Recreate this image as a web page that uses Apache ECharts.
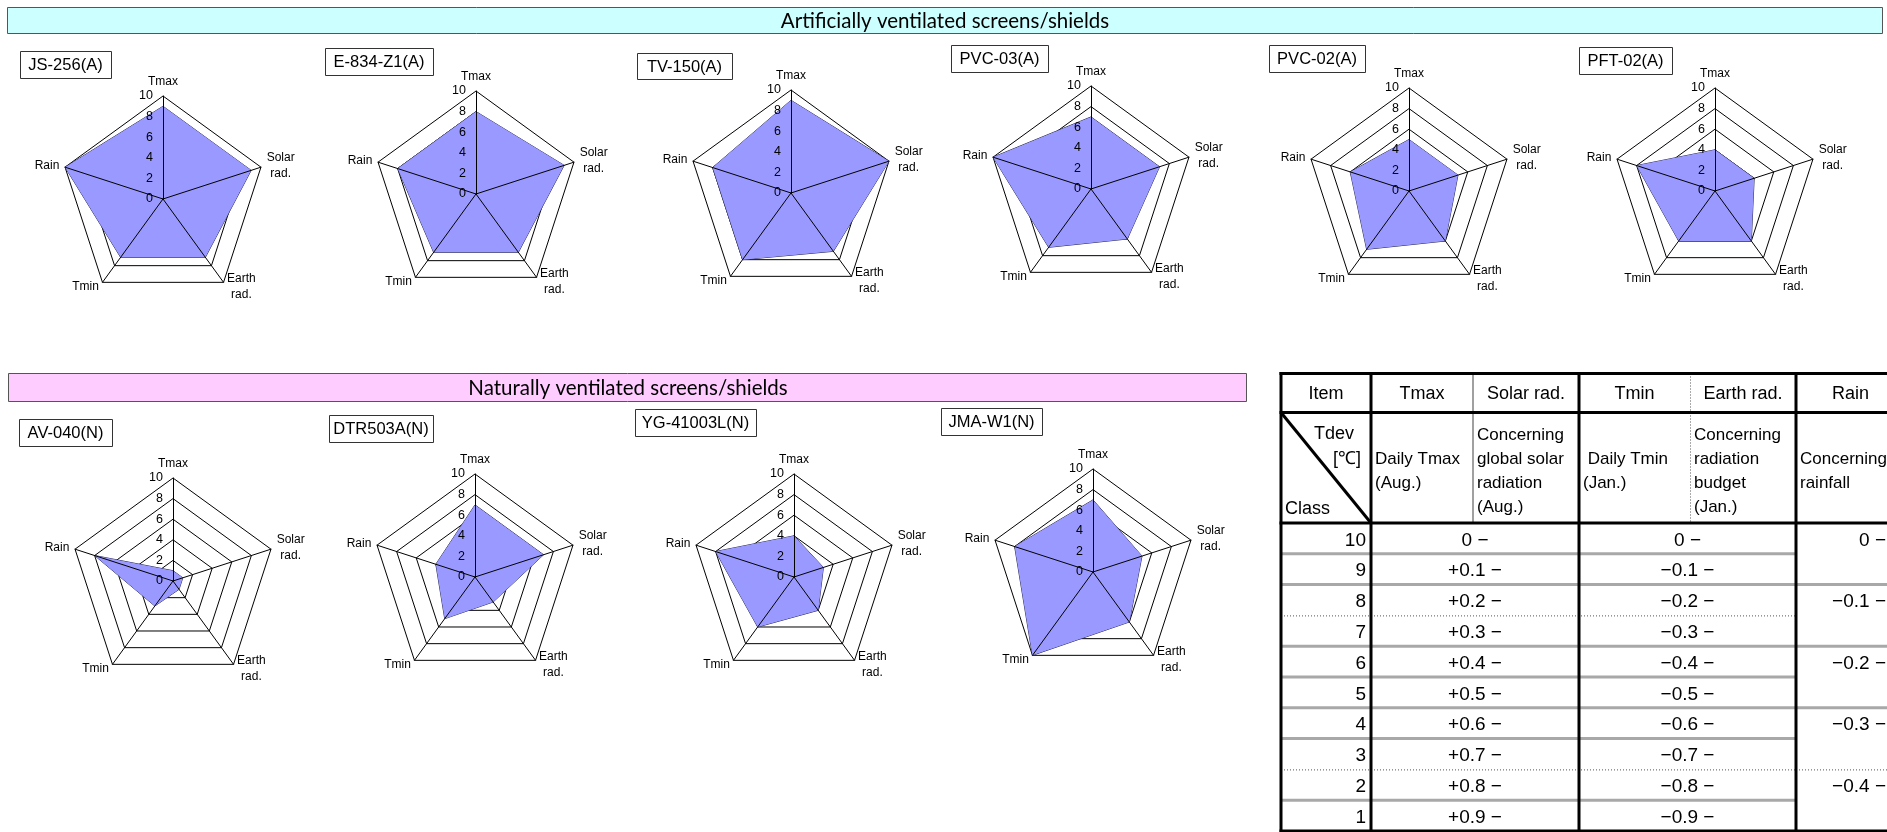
<!DOCTYPE html>
<html><head><meta charset="utf-8">
<script src="https://cdn.jsdelivr.net/npm/echarts@6/dist/echarts.min.js"></script>
<style>html,body{margin:0;padding:0;background:#fff;overflow:hidden}#c{width:1887px;height:832px}</style>
</head><body><div id="c"></div>
<script>
// ---------------- data ----------------
const groupTitles = ['Artificially ventilated screens/shields', 'Naturally ventilated screens/shields'];
const screens = ['JS-256(A)', 'E-834-Z1(A)', 'TV-150(A)', 'PVC-03(A)', 'PVC-02(A)', 'PFT-02(A)',
                 'AV-040(N)', 'DTR503A(N)', 'YG-41003L(N)', 'JMA-W1(N)'];
const axisNames = ['Tmax', 'Solar rad.', 'Earth rad.', 'Tmin', 'Rain'];
const tmax  = [9, 8, 9, 7, 5, 4, 1, 7, 4, 7];
const solar = [9, 9, 10, 7, 5, 4, 1, 7, 3, 5];
const earth = [7, 7, 7, 6, 6, 6, 1, 3, 4, 6];
const tmin  = [7, 7, 8, 7, 7, 6, 3, 5, 6, 10];
const rain  = [10, 8, 8, 10, 6, 8, 8, 4, 8, 8];
const classMin = 0, classMax = 10, classSplits = 5;

const tableItems = ['Item', 'Tmax', 'Solar rad.', 'Tmin', 'Earth rad.', 'Rain'];
const tableDesc = [[], ['Daily Tmax', '(Aug.)'], ['Concerning', 'global solar', 'radiation', '(Aug.)'],
                   [' Daily Tmin', '(Jan.)'], ['Concerning', 'radiation', 'budget', '(Jan.)'], ['Concerning', 'rainfall']];
const cornerTop = ['Tdev', '[\u2103]'];
const cornerBottom = 'Class';
const classes = [10, 9, 8, 7, 6, 5, 4, 3, 2, 1];
const tmaxSolarDev = ['0 \u2212', '+0.1 \u2212', '+0.2 \u2212', '+0.3 \u2212', '+0.4 \u2212', '+0.5 \u2212', '+0.6 \u2212', '+0.7 \u2212', '+0.8 \u2212', '+0.9 \u2212'];
const tminEarthDev = ['0 \u2212', '\u22120.1 \u2212', '\u22120.2 \u2212', '\u22120.3 \u2212', '\u22120.4 \u2212', '\u22120.5 \u2212', '\u22120.6 \u2212', '\u22120.7 \u2212', '\u22120.8 \u2212', '\u22120.9 \u2212'];
const rainDev = ['0 \u2212', '\u22120.1 \u2212', '\u22120.2 \u2212', '\u22120.3 \u2212', '\u22120.4 \u2212'];

// ---------------- layout (positions / styles) ----------------
const centers = [[163,199],[476,194],[791,193],[1091,189],[1409,191],[1715,191],
                 [173,581],[475,577],[794,577],[1093,572]];
const boxes = [[20,51,91,27],[325,48,108,27],[637,53,95,26],[951,45,97,27],[1269,45,96,27],[1579,47,93,27],
               [19,419,93,27],[329,415,104,27],[635,409,121,27],[941,408,101,27]];
const R = 103;
const FONT = '"Liberation Sans", Arial, sans-serif';
const BANNER_FONT = 'Lato, "Open Sans", sans-serif';
const vals = [tmax, solar, earth, tmin, rain];
const order = [0, 4, 3, 2, 1]; // counter-clockwise from top: Tmax, Rain, Tmin, Earth rad., Solar rad.

const radars = [], series = [];
screens.forEach((s, i) => {
  radars.push({
    center: centers[i], radius: R, startAngle: 90, splitNumber: classSplits, shape: 'polygon', z: 1,
    indicator: order.map(k => ({ name: axisNames[k], min: classMin, max: classMax })),
    axisNameGap: 6,
    axisName: {
      show: true, color: '#000', fontSize: 12, fontFamily: FONT,
      formatter: v => v.split(' ').map(w => '{n|' + w + '}').join('\n'),
      rich: { n: { align: 'center', fontSize: 12, fontFamily: FONT, color: '#000', lineHeight: 16 } }
    },
    splitLine: { show: true, lineStyle: { color: '#000', width: 1 } },
    splitArea: { show: false },
    axisLine: { show: false }, axisTick: { show: false }, axisLabel: { show: false }
  });
  radars.push({
    center: centers[i], radius: R, startAngle: 90, splitNumber: classSplits, shape: 'polygon', z: 3,
    indicator: order.map((k, j) => j === 0
      ? { name: '', min: classMin, max: classMax,
          axisLabel: { show: true, color: '#000', fontSize: 12.5, fontFamily: FONT, margin: 10 } }
      : { name: '', min: classMin, max: classMax }),
    axisName: { show: false },
    splitLine: { show: false }, splitArea: { show: false },
    axisLine: { show: true, lineStyle: { color: '#000', width: 1 } },
    axisTick: { show: false }, axisLabel: { show: false }
  });
  series.push({
    type: 'radar', radarIndex: 2 * i, z: 2, silent: true, symbol: 'none',
    lineStyle: { color: '#2a2a55', width: 1 },
    areaStyle: { color: '#9999FF', opacity: 1 },
    data: [{ name: s, value: order.map(k => vals[k][i]) }]
  });
});

// ---------------- graphic: banners, name boxes, table ----------------
const els = [];
function txt(x, y, text, font, align, valign, extra) {
  els.push(Object.assign({ type: 'text', x: x, y: y, silent: true, z: 10,
    style: { text: text, font: font, fill: '#000', align: align, verticalAlign: valign,
             textAlign: align, textVerticalAlign: valign } }, extra || {}));
}
function line(x1, y1, x2, y2, stroke, w, dash) {
  els.push({ type: 'line', silent: true, z: 9, shape: { x1, y1, x2, y2 },
    style: { stroke: stroke, lineWidth: w, lineDash: dash || null } });
}
// banners
els.push({ type: 'rect', silent: true, z: 5, shape: { x: 7.5, y: 7.5, width: 1875, height: 26 },
  style: { fill: '#CCFFFF', stroke: '#555', lineWidth: 1 } });
txt(945, 21, groupTitles[0], '20.5px ' + BANNER_FONT, 'center', 'middle');
els.push({ type: 'rect', silent: true, z: 5, shape: { x: 8.5, y: 373.5, width: 1238, height: 28 },
  style: { fill: '#FFCCFF', stroke: '#555', lineWidth: 1 } });
txt(628, 388, groupTitles[1], '20.5px ' + BANNER_FONT, 'center', 'middle');
// name boxes
screens.forEach((s, i) => {
  const b = boxes[i];
  els.push({ type: 'rect', silent: true, z: 5, shape: { x: b[0] + 0.5, y: b[1] + 0.5, width: b[2], height: b[3] },
    style: { fill: '#fff', stroke: '#333', lineWidth: 1 } });
  txt(b[0] + b[2] / 2, b[1] + b[3] / 2 + 1, s, '16.5px ' + FONT, 'center', 'middle');
});
// table
const cx = [1281, 1371, 1473, 1579, 1690, 1796, 1905];
const T0 = 373.5, T1 = 412.5, T2 = 523, RH = 30.8;
const rowY = i => T2 + i * RH;
const sepStyle = ['g', 'g', 'd', 'g', 'g', 'g', 'g', 'd', 'g'];
// row separators
sepStyle.forEach((st, i) => {
  const y = rowY(i + 1);
  const draw = (xa, xb) => st === 'g' ? line(xa, y, xb, y, '#a8a8a8', 3) : line(xa, y + 0.5, xb, y + 0.5, '#555', 1, [1, 2]);
  draw(cx[0], cx[5]);
  if (i % 2 === 1) draw(cx[5], cx[6]);
});
// header inner verticals
line(cx[2], T0, cx[2], T2, '#a0a0a0', 2);
line(cx[4] + 0.5, T0, cx[4] + 0.5, T2, '#555', 1, [1, 2]);
// thick borders
const bottom = rowY(10);
[T0, T1, T2].forEach(y => line(cx[0] - 1.5, y, cx[6], y, '#000', 3));
line(cx[0] - 1.5, bottom, cx[6], bottom, '#000', 3);
[0, 1, 3, 5].forEach(k => line(cx[k], T0 - 1.5, cx[k], bottom + 1.5, '#000', 3));
line(cx[0], T1, cx[1], T2, '#000', 3);
// header texts
tableItems.forEach((t, k) => txt((cx[k] + cx[k + 1]) / 2, 394, t, '18px ' + FONT, 'center', 'middle'));
txt(1354, 434, cornerTop[0], '18px ' + FONT, 'right', 'middle');
txt(1361, 459, cornerTop[1], '18px ' + FONT, 'right', 'middle');
txt(1285, 509, cornerBottom, '18px ' + FONT, 'left', 'middle');
tableDesc.forEach((lines, k) => {
  const y0 = lines.length === 4 ? 435 : 459;
  lines.forEach((t, j) => txt(cx[k] + 4, y0 + j * 24, t, '17px ' + FONT, 'left', 'middle'));
});
// data texts
classes.forEach((c, i) => {
  const y = rowY(i) + RH / 2 + 2;
  txt(1366, y, String(c), '19px ' + FONT, 'right', 'middle');
  txt((cx[1] + cx[3]) / 2, y, tmaxSolarDev[i], '19px ' + FONT, 'center', 'middle');
  txt((cx[3] + cx[5]) / 2, y, tminEarthDev[i], '19px ' + FONT, 'center', 'middle');
});
rainDev.forEach((t, j) => txt(1886, rowY(2 * j) + RH / 2 + 2, t, '19px ' + FONT, 'right', 'middle'));

const chart = echarts.init(document.getElementById('c'), null, { renderer: 'canvas', width: 1887, height: 832 });
chart.setOption({
  animation: false,
  backgroundColor: '#fff',
  radar: radars,
  series: series,
  graphic: { elements: els }
});
</script>
</body></html>
